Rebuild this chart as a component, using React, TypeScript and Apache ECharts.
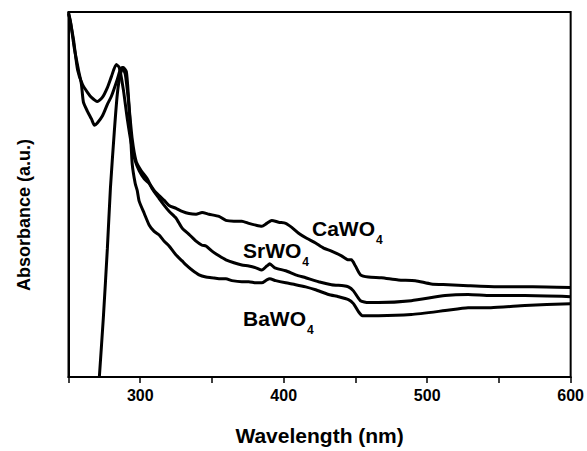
import React, { useEffect, useRef } from "react";
import * as echarts from "echarts";

// Wavelength (nm) and absorbance (a.u., normalised)
const caWavelength = [250, 250.7, 253.5, 256.3, 259.7, 263.2, 266.0, 270.1, 273.6, 277.1, 279.9, 283.3, 285.4, 288.2, 291.0, 293.8, 296.5, 299.3, 302.8, 306.3, 309.7, 313.2, 316.7, 320.1, 325.0, 329.2, 334.0, 338.9, 343.1, 347.9, 354.9, 359.7, 365.3, 370.8, 375.7, 380.6, 384.7, 388.2, 391.7, 396.5, 401.4, 405.6, 410.4, 416.0, 422.2, 427.8, 433.3, 440.3, 445.1, 447.2, 450.0, 453.5, 459.0, 468.1, 479.9, 491.7, 502.8, 514.6, 528.5, 549.3, 573.6, 600];
const caAbsorbance = [1.0, 0.986, 0.924, 0.842, 0.802, 0.780, 0.766, 0.755, 0.766, 0.793, 0.823, 0.856, 0.848, 0.788, 0.707, 0.639, 0.592, 0.565, 0.543, 0.530, 0.511, 0.497, 0.484, 0.470, 0.462, 0.454, 0.448, 0.446, 0.451, 0.446, 0.440, 0.429, 0.427, 0.427, 0.421, 0.416, 0.413, 0.421, 0.429, 0.424, 0.421, 0.410, 0.394, 0.380, 0.367, 0.353, 0.345, 0.332, 0.321, 0.321, 0.304, 0.280, 0.274, 0.272, 0.266, 0.264, 0.255, 0.253, 0.250, 0.247, 0.247, 0.245];

const srWavelength = [250, 251.4, 254.2, 256.9, 259.0, 260.4, 263.2, 266.0, 268.1, 270.1, 273.6, 277.1, 279.9, 284.0, 286.1, 287.5, 289.6, 291.7, 294.4, 297.2, 300.7, 304.9, 308.3, 313.2, 316.7, 320.1, 325.0, 329.2, 334.0, 338.9, 343.1, 345.8, 350.0, 354.9, 359.7, 365.3, 370.8, 375.7, 380.6, 384.7, 388.2, 390.3, 393.8, 401.4, 408.3, 415.3, 424.3, 433.3, 441.7, 445.1, 448.6, 453.5, 459.0, 466.0, 488.9, 512.5, 528.5, 544.4, 568.1, 600];
const srAbsorbance = [0.995, 0.973, 0.897, 0.842, 0.802, 0.753, 0.728, 0.707, 0.690, 0.696, 0.715, 0.747, 0.769, 0.815, 0.842, 0.848, 0.829, 0.761, 0.652, 0.590, 0.565, 0.543, 0.516, 0.489, 0.470, 0.454, 0.435, 0.408, 0.391, 0.372, 0.361, 0.359, 0.345, 0.332, 0.321, 0.313, 0.307, 0.304, 0.299, 0.293, 0.304, 0.310, 0.299, 0.291, 0.280, 0.272, 0.261, 0.253, 0.250, 0.247, 0.236, 0.209, 0.204, 0.204, 0.209, 0.223, 0.226, 0.223, 0.223, 0.220];

const baWavelength = [271.5, 274.3, 277.1, 279.2, 281.9, 284.0, 286.1, 288.2, 290.3, 291.7, 293.1, 294.4, 296.5, 297.9, 299.3, 302.8, 306.3, 309.7, 313.2, 316.7, 320.1, 325.0, 329.2, 331.9, 336.1, 341.0, 345.8, 350.0, 354.9, 359.7, 363.9, 370.8, 375.7, 380.6, 384.7, 388.2, 390.3, 394.4, 401.4, 408.3, 415.3, 422.2, 431.3, 438.2, 445.1, 448.6, 452.1, 454.9, 466.0, 488.9, 512.5, 528.5, 544.4, 568.1, 600];
const baAbsorbance = [0.0, 0.163, 0.353, 0.516, 0.671, 0.774, 0.829, 0.848, 0.837, 0.774, 0.679, 0.584, 0.530, 0.511, 0.481, 0.448, 0.416, 0.399, 0.389, 0.372, 0.359, 0.334, 0.318, 0.307, 0.293, 0.280, 0.274, 0.272, 0.269, 0.269, 0.264, 0.261, 0.261, 0.258, 0.258, 0.266, 0.269, 0.264, 0.258, 0.253, 0.247, 0.239, 0.226, 0.220, 0.212, 0.201, 0.179, 0.168, 0.168, 0.171, 0.182, 0.190, 0.190, 0.196, 0.201];

const seriesNames = ["CaWO", "SrWO", "BaWO"];
const xTickLabels = [300, 400, 500, 600];

const FONT = "'Liberation Sans', Arial, sans-serif";
const LABEL_FONT = `bold 21px ${FONT}`;

function pairs(xs: number[], ys: number[]) {
  return xs.map((x, i) => [x, ys[i]]);
}

function measure(text: string, font: string) {
  const c = document.createElement("canvas").getContext("2d");
  if (!c) return text.length * 14;
  c.font = font;
  return c.measureText(text).width;
}

function labelGraphic(name: string, x: number, y: number) {
  const w = measure(name, LABEL_FONT);
  return [
    {
      type: "text",
      x,
      y,
      style: { text: name, font: LABEL_FONT, fill: "#000" },
    },
    {
      type: "text",
      x: x + w + 1,
      y: y + 16,
      style: { text: "4", font: `bold 12px ${FONT}`, fill: "#000" },
    },
  ];
}

export default function App() {
  const ref = useRef<HTMLDivElement>(null);
  useEffect(() => {
    if (!ref.current) return;
    const chart = echarts.init(ref.current, null, { renderer: "svg" });
    const data = [
      pairs(caWavelength, caAbsorbance),
      pairs(srWavelength, srAbsorbance),
      pairs(baWavelength, baAbsorbance),
    ];
    chart.setOption({
      animation: false,
      backgroundColor: "#fff",
      grid: {
        left: 68.5,
        right: 14,
        top: 12,
        bottom: 71,
        show: true,
        borderColor: "#000",
        borderWidth: 2,
        backgroundColor: "transparent",
      },
      xAxis: {
        type: "value",
        min: 250,
        max: 600,
        interval: 50,
        name: "Wavelength (nm)",
        nameLocation: "middle",
        nameGap: 48,
        nameTextStyle: { fontFamily: FONT, fontWeight: "bold", fontSize: 21, color: "#000" },
        axisLine: { show: true, lineStyle: { color: "#000", width: 2 } },
        axisTick: { show: true, length: 6, lineStyle: { color: "#000", width: 1.5 } },
        axisLabel: {
          margin: 10,
          fontFamily: FONT,
          fontWeight: "bold",
          fontSize: 16,
          color: "#000",
          formatter: (v: number) => (xTickLabels.includes(v) ? String(v) : ""),
        },
        splitLine: { show: false },
      },
      yAxis: {
        type: "value",
        min: 0,
        max: 1,
        axisLine: { show: true, lineStyle: { color: "#000", width: 2 } },
        axisTick: { show: false },
        axisLabel: { show: false },
        splitLine: { show: false },
      },
      series: data.map((d, i) => ({
        type: "line",
        name: seriesNames[i] + "4",
        data: d,
        symbol: "none",
        smooth: 0.2,
        lineStyle: { color: "#000", width: 3 },
        clip: true,
      })),
      graphic: [
        {
          type: "text",
          x: 24,
          y: 215,
          rotation: Math.PI / 2,
          style: {
            text: "Absorbance (a.u.)",
            font: `bold 18px ${FONT}`,
            fill: "#000",
            align: "center",
            verticalAlign: "middle",
          },
        },
        ...labelGraphic(seriesNames[0], 312, 218),
        ...labelGraphic(seriesNames[1], 243, 240),
        ...labelGraphic(seriesNames[2], 243, 308),
      ],
    });
    return () => chart.dispose();
  }, []);
  return <div ref={ref} style={{ width: 587, height: 451, position: "absolute", left: 0, top: 0 }} />;
}
